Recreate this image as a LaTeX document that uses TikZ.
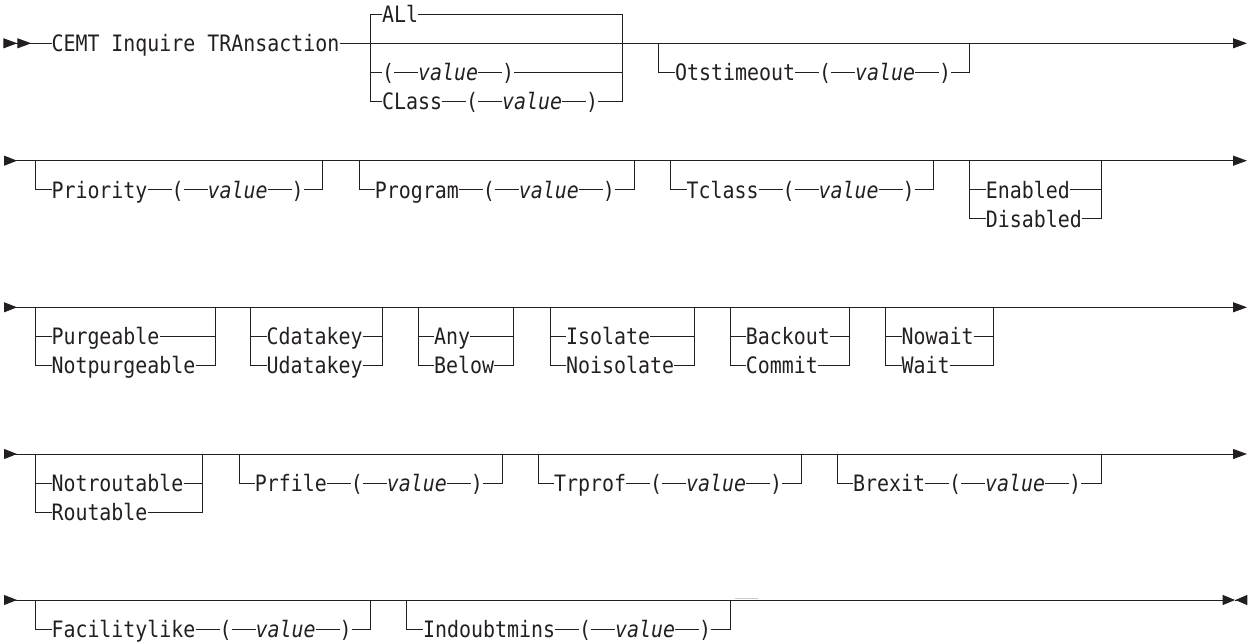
\documentclass[tikz,border=0pt]{standalone}
\usepackage{fontspec}
\usetikzlibrary{arrows.meta,positioning}
\newfontfamily\dmono[FakeStretch=0.882]{DejaVu Sans Mono}
\definecolor{ink}{HTML}{231F20}
\tikzset{
  ln/.style={draw=ink, line width=1pt},
  tx/.style={font=\dmono\fontsize{22.6}{27}\selectfont, text=ink, inner sep=0pt, outer sep=0pt,
             text height=16.5pt, text depth=0pt, anchor=west},
  val/.style={tx, font=\dmono\fontsize{22.6}{27}\selectfont\itshape},
  starttwo/.style={{Triangle[reversed,length=14pt,width=10pt,sep=0pt]Triangle[reversed,length=14pt,width=10pt]}-},
  endone/.style={-{Triangle[length=14pt,width=10pt]}},
  rowarr/.style={{Triangle[reversed,length=13pt,width=10pt]}-{Triangle[length=14pt,width=10pt]}},
  lastarr/.style={{Triangle[reversed,length=13pt,width=10pt]}-{Triangle[length=12.3pt,width=10pt]}},
  backarr/.style={-{Triangle[reversed,length=12pt,width=10pt]}},
}
% "(" value ")" after keyword node #1k
\newcommand\parval[1]{%
  \node[tx, right=24pt of #1k] (#1o) {(};
  \node[val, right=24pt of #1o] (#1v) {value};
  \node[tx, right=24pt of #1v] (#1c) {)};
  \draw[ln] (#1k.east) -- (#1o.west);
  \draw[ln] (#1o.east) -- (#1v.west);
  \draw[ln] (#1v.east) -- (#1c.west);
}
% optional keyword(value): #1 id, #2 L, #3 R, #4 main y, #5 keyword, #6 text x
\newcommand\optone[6]{%
  \coordinate (#1L) at (#2,#4);
  \coordinate (#1R) at (#3,#4);
  \node[tx] (#1k) at (#6,#4+29.1) {#5};
  \parval{#1}
  \draw[ln] (#1L) |- (#1k.west);
  \draw[ln] (#1c.east) -| (#1R);
}
% optional choice of two: #1 id, #2 L, #3 R, #4 main y, #5 text x, #6 first, #7 second
\newcommand\choosetwo[7]{%
  \coordinate (#1L) at (#2,#4);
  \coordinate (#1R) at (#3,#4);
  \node[tx] (#1a) at (#5,#4+29.1) {#6};
  \node[tx] (#1b) at (#5,#4+58.2) {#7};
  \draw[ln] (#1L) |- (#1b.west);
  \draw[ln] (#1L |- #1a.west) -- (#1a.west);
  \draw[ln] (#1b.east) -| (#1R);
  \draw[ln] (#1a.east) -- (#1R |- #1a.east);
}
\begin{document}
\begin{tikzpicture}[x=1pt,y=-1pt]
\path[use as bounding box] (0,0) rectangle (1249,644);

% ---------------- row 1 ----------------
\coordinate (s1) at (3.3,43.3);
\coordinate (e1) at (1247,43.3);
\node[tx] (cemt) at (51.5,43.3) {CEMT Inquire TRAnsaction};
\draw[ln, starttwo] (s1) -- (cemt.west);
\draw[ln, endone] (cemt.east) -- (e1);

\coordinate (aL) at (370,43.3);
\coordinate (aR) at (622,43.3);
\node[tx] (allk) at (382,14.5) {ALl};
\node[tx] (pvo) at (382,72.4) {(};
\node[val, right=24pt of pvo] (pvv) {value};
\node[tx, right=24pt of pvv] (pvc) {)};
\node[tx] (clk) at (382,101.5) {CLass};
\parval{cl}
\draw[ln] (allk.west) -| (aL);
\draw[ln] (aL) |- (clk.west);
\draw[ln] (aL |- pvo.west) -- (pvo.west);
\draw[ln] (pvo.east) -- (pvv.west);
\draw[ln] (pvv.east) -- (pvc.west);
\draw[ln] (allk.east) -| (aR);
\draw[ln] (aR) |- (clc.east);
\draw[ln] (pvc.east) -- (aR |- pvc.east);

\optone{ot}{658}{969}{43.3}{Otstimeout}{675.2}

% ---------------- row 2 ----------------
\coordinate (s2) at (4,160.7);
\coordinate (e2) at (1247,160.7);
\draw[ln, rowarr] (s2) -- (e2);
\optone{pr}{35}{322.7}{160.7}{Priority}{51.5}
\optone{pg}{359}{634.3}{160.7}{Program}{374.9}
\optone{tc}{670}{933.3}{160.7}{Tclass}{686.5}
\choosetwo{en}{969.3}{1101}{160.7}{985.9}{Enabled}{Disabled}

% ---------------- row 3 ----------------
\coordinate (s3) at (4,307.3);
\coordinate (e3) at (1247,307.3);
\draw[ln, rowarr] (s3) -- (e3);
\choosetwo{pu}{35}{215}{307.3}{51.5}{Purgeable}{Notpurgeable}
\choosetwo{cd}{250.7}{382.7}{307.3}{266.5}{Cdatakey}{Udatakey}
\choosetwo{an}{418.3}{513.3}{307.3}{434.2}{Any}{Below}
\choosetwo{is}{550}{694}{307.3}{566}{Isolate}{Noisolate}
\choosetwo{bk}{730}{849.3}{307.3}{745.9}{Backout}{Commit}
\choosetwo{nw}{885.7}{993.3}{307.3}{901.5}{Nowait}{Wait}

% ---------------- row 4 ----------------
\coordinate (s4) at (4,454);
\coordinate (e4) at (1247,454);
\draw[ln, rowarr] (s4) -- (e4);
\choosetwo{rt}{35}{202.7}{454}{51.5}{Notroutable}{Routable}
\optone{pf}{239}{502.3}{454}{Prfile}{254.9}
\optone{tp}{538.3}{801.7}{454}{Trprof}{554.2}
\optone{bx}{837.7}{1101}{454}{Brexit}{853.2}

% ---------------- row 5 ----------------
\coordinate (s5) at (4,600);
\coordinate (e5) at (1235,600);
\coordinate (f5) at (1247.3,600);
\draw[ln, lastarr] (s5) -- (e5);
\draw[ln, backarr] (e5) -- (f5);
\optone{fl}{35}{370.7}{600}{Facilitylike}{51.5}
\optone{id}{406.7}{730}{600}{Indoubtmins}{423.2}
\coordinate (m1) at (735,598.7);
\coordinate (m2) at (758,598.7);
\draw[gray!40, line width=1.2pt] (m1) -- (m2);
\end{tikzpicture}
\end{document}
